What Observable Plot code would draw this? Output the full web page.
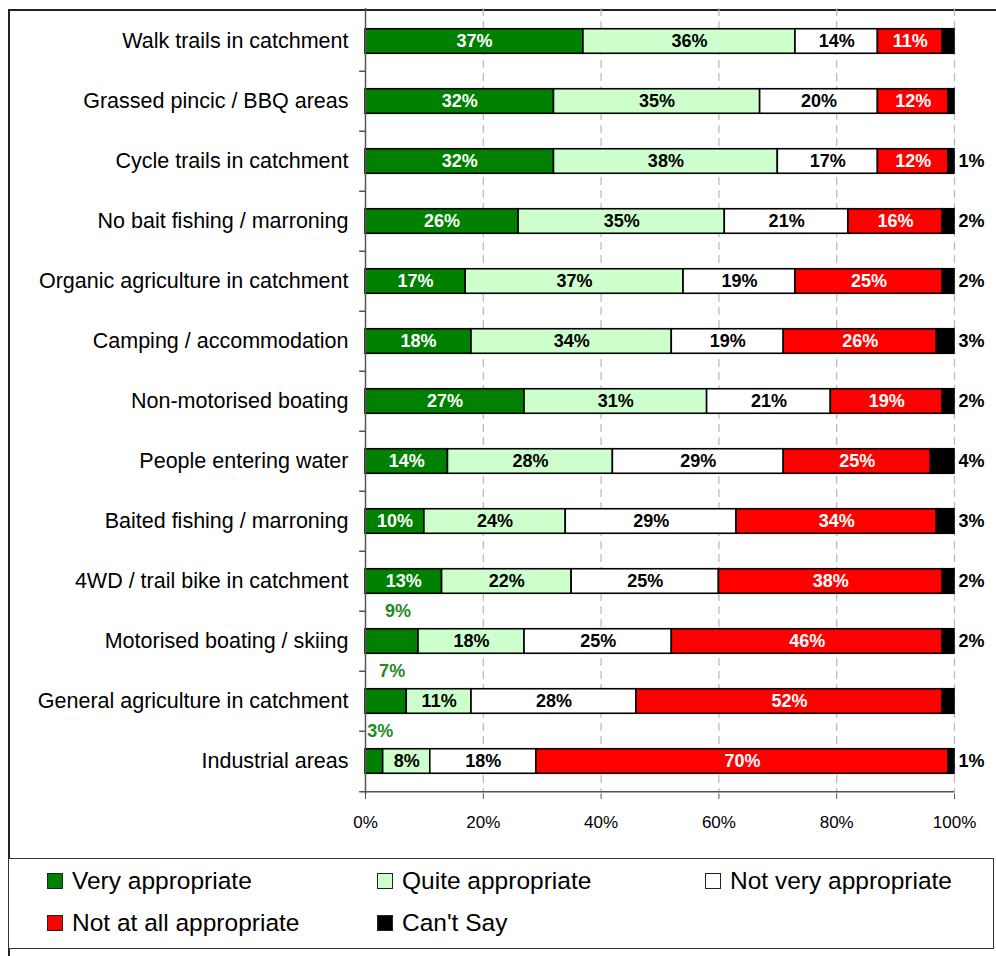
<!DOCTYPE html>
<html>
<head>
<meta charset="utf-8">
<script src="https://cdn.jsdelivr.net/npm/d3@7"></script>
<script src="https://cdn.jsdelivr.net/npm/@observablehq/plot@0.6"></script>
<style>
  html, body { margin: 0; padding: 0; background: #fff; overflow: hidden; }
  #page { position: relative; width: 996px; height: 956px; overflow: hidden; font-family: "Liberation Sans", Arial, sans-serif; }
  #frame { position: absolute; left: 8px; top: 9px; width: 1000px; height: 1000px; border: 2px solid #222; box-sizing: border-box; }
  #chart { position: absolute; left: 0; top: 0; }
  #legend { position: absolute; left: 8px; top: 858px; width: 986px; height: 91px; border: 1.5px solid #333; box-sizing: border-box; background: #fff; }
  .item { position: absolute; display: flex; align-items: center; font-size: 24.5px; color: #000; white-space: nowrap; }
  .swatch { width: 14px; height: 14px; border: 1px solid #222; margin-right: 9px; }
</style>
</head>
<body>
<div id="page">
  <div id="frame"></div>
  <div id="chart"></div>
  <div id="legend"></div>
</div>
<script>
// Survey activities, top to bottom
const items = [
  "Walk trails in catchment",
  "Grassed pincic / BBQ areas",
  "Cycle trails in catchment",
  "No bait fishing / marroning",
  "Organic agriculture in catchment",
  "Camping / accommodation",
  "Non-motorised boating",
  "People entering water",
  "Baited fishing / marroning",
  "4WD / trail bike in catchment",
  "Motorised boating / skiing",
  "General agriculture in catchment",
  "Industrial areas"
];

// Response categories and their fills
const responses = ["Very appropriate", "Quite appropriate", "Not very appropriate", "Not at all appropriate", "Can't Say"];
const colors = ["#008000", "#ccffcc", "#ffffff", "#ff0000", "#000000"];

// Percent of respondents per response
const veryAppropriate  = [37, 32, 32, 26, 17, 18, 27, 14, 10, 13,  9,  7,  3];
const quiteAppropriate = [36, 35, 38, 35, 37, 34, 31, 28, 24, 22, 18, 11,  8];
const notVeryAppropriate = [14, 20, 17, 21, 19, 19, 21, 29, 29, 25, 25, 28, 18];
const notAtAllAppropriate = [11, 12, 12, 16, 25, 26, 19, 25, 34, 38, 46, 52, 70];
const cantSay = [2, 1, 1, 2, 2, 3, 2, 4, 3, 2, 2, 2, 1];
// Whether the "Can't Say" share carries a printed label
const cantSayLabelled = [false, false, true, true, true, true, true, true, true, true, true, false, true];

const xTicks = [0, 20, 40, 60, 80, 100];
const gridTicks = [20, 40, 60, 80, 100];

const series = [veryAppropriate, quiteAppropriate, notVeryAppropriate, notAtAllAppropriate, cantSay];

// Stack each row into segments
const segs = [];
items.forEach((item, i) => {
  let start = 0;
  series.forEach((vals, k) => {
    const v = vals[i];
    segs.push({item, row: i, k, response: responses[k], value: v, x1: start, x2: start + v});
    start += v;
  });
});

const W = 996, H = 840, mTop = 8, mBottom = 46, mLeft = 365, mRight = 42;
const half = (H - mTop - mBottom) / items.length / 2;
const barInset = half - 12.5;

const insideLight = segs.filter(d => (d.k === 0 && d.value >= 10) || d.k === 3);
const insideDark = segs.filter(d => d.k === 1 || d.k === 2);
const aboveGreen = segs.filter(d => d.k === 0 && d.value < 10);
const outsideBlack = segs.filter(d => d.k === 4 && cantSayLabelled[d.row]);

const mid = d => (d.x1 + d.x2) / 2;
const pct = d => d.value + "%";

const chart = Plot.plot({
  width: W, height: H,
  marginTop: mTop, marginBottom: mBottom, marginLeft: mLeft, marginRight: mRight,
  x: {domain: [0, 100], label: null},
  y: {domain: items, padding: 0, label: null},
  color: {domain: responses, range: colors},
  style: {fontFamily: "'Liberation Sans', Arial, sans-serif", background: "transparent", overflow: "visible", color: "#000"},
  marks: [
    Plot.ruleX(gridTicks, {stroke: "#b8b8b8", strokeWidth: 1.2, strokeDasharray: "8,5"}),
    Plot.barX(segs, {x1: "x1", x2: "x2", y: "item", fill: "response", stroke: "#000", strokeWidth: 1.6, insetTop: barInset, insetBottom: barInset}),
    Plot.ruleX([0], {stroke: "#555", strokeWidth: 1.5}),
    Plot.ruleY(items.slice(1), {y: d => d, x1: -1, x2: 0, dy: -half, stroke: "#555", strokeWidth: 1.5}),
    Plot.ruleY([items[items.length - 1]], {y: d => d, x1: -1, x2: 100, dy: half, stroke: "#555", strokeWidth: 1.5}),
    Plot.axisY({tickSize: 0, tickPadding: 17, fontSize: 21.5, fill: "#000"}),
    Plot.axisX({ticks: xTicks, tickFormat: d => d + "%", tickSize: 5, tickPadding: 16, fontSize: 17, stroke: "#555", fill: "#000"}),
    Plot.text(insideLight, {x: mid, y: "item", text: pct, fill: "#fff", fontWeight: "bold", fontSize: 18}),
    Plot.text(insideDark, {x: mid, y: "item", text: pct, fill: "#000", fontWeight: "bold", fontSize: 18}),
    Plot.text(aboveGreen, {x: mid, y: "item", text: pct, fill: "#1f8c1f", fontWeight: "bold", fontSize: 18, dx: 6, dy: -30}),
    Plot.text(outsideBlack, {x: "x2", y: "item", text: pct, fill: "#000", fontWeight: "bold", fontSize: 18, textAnchor: "start", dx: 4})
  ]
});
document.getElementById("chart").appendChild(chart);

// Legend: two rows, three columns
const legend = document.getElementById("legend");
const colX = [38, 368, 696];
const rowY = [8, 50];
responses.forEach((r, i) => {
  const el = document.createElement("div");
  el.className = "item";
  el.style.left = colX[i % 3] + "px";
  el.style.top = rowY[Math.floor(i / 3)] + "px";
  const sw = document.createElement("span");
  sw.className = "swatch";
  sw.style.background = colors[i];
  el.appendChild(sw);
  el.appendChild(document.createTextNode(r));
  legend.appendChild(el);
});
</script>
</body>
</html>
